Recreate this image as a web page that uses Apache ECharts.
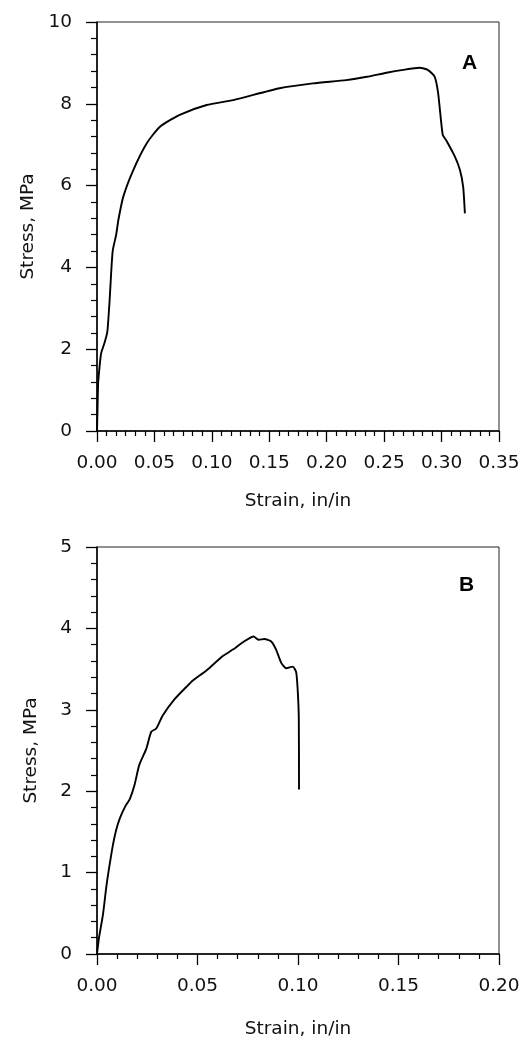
<!DOCTYPE html>
<html>
<head>
<meta charset="utf-8">
<script src="https://cdn.jsdelivr.net/npm/echarts@6/dist/echarts.min.js"></script>
<style>
html,body{margin:0;padding:0;background:#fff;}
#chart{width:529px;height:1040px;}
</style>
</head>
<body>
<div id="chart"></div>
<script>
// Panel A: stress-strain
var strainA = [0, 0.0005, 0.001, 0.0022, 0.0036, 0.0065, 0.0089, 0.010, 0.011, 0.0123, 0.0137, 0.0167, 0.0186, 0.0229, 0.0316, 0.0432, 0.0548, 0.072, 0.0955, 0.1186, 0.159, 0.188, 0.217, 0.235, 0.252, 0.2666, 0.281, 0.288, 0.294, 0.297, 0.301, 0.304, 0.3116, 0.316, 0.3188, 0.3203];
var stressA = [0, 0.6, 1.17, 1.56, 1.9, 2.15, 2.41, 2.78, 3.2, 3.85, 4.41, 4.8, 5.16, 5.73, 6.38, 7.03, 7.44, 7.73, 7.97, 8.09, 8.38, 8.5, 8.58, 8.66, 8.76, 8.83, 8.88, 8.83, 8.66, 8.26, 7.24, 7.11, 6.71, 6.38, 5.97, 5.32];
// Panel B: stress-strain
var strainB = [0, 0.001, 0.003, 0.0046, 0.0063, 0.008, 0.0096, 0.0114, 0.014, 0.0164, 0.0187, 0.021, 0.0245, 0.027, 0.0295, 0.0327, 0.0386, 0.0444, 0.0477, 0.0543, 0.0626, 0.0676, 0.0726, 0.0779, 0.0805, 0.0833, 0.0867, 0.0891, 0.0916, 0.0941, 0.0974, 0.0991, 0.0999, 0.1004, 0.1005];
var stressB = [0, 0.2, 0.49, 0.82, 1.1, 1.35, 1.53, 1.67, 1.81, 1.91, 2.08, 2.32, 2.52, 2.73, 2.77, 2.93, 3.13, 3.28, 3.36, 3.48, 3.66, 3.74, 3.83, 3.9, 3.86, 3.87, 3.84, 3.74, 3.58, 3.51, 3.53, 3.46, 3.22, 2.89, 2.02];

var xTicksA = {min: 0, max: 0.35, interval: 0.05};
var yTicksA = {min: 0, max: 10, interval: 2};
var xTicksB = {min: 0, max: 0.20, interval: 0.05};
var yTicksB = {min: 0, max: 5, interval: 1};
var panelLabels = ['A', 'B'];
var xName = 'Strain, in/in';
var yName = 'Stress, MPa';

function pairs(xs, ys) { return xs.map(function (x, i) { return [x, ys[i]]; }); }

var FONT = 'DejaVu Sans';
var FS = 18.5;

function xAxis(idx, t, minorSplit, gap) {
  return {
    type: 'value', gridIndex: idx, min: t.min, max: t.max, interval: t.interval,
    name: xName, nameLocation: 'middle', nameGap: gap,
    nameTextStyle: {fontFamily: FONT, fontSize: FS, color: '#111'},
    axisLine: {show: true, onZero: false, lineStyle: {color: '#000', width: 1.5}},
    axisTick: {show: true, inside: false, length: 11, lineStyle: {color: '#000', width: 1.3}},
    minorTick: {show: true, splitNumber: minorSplit, length: 5, lineStyle: {color: '#000', width: 1.2}},
    axisLabel: {margin: 23, fontFamily: FONT, fontSize: FS, color: '#111',
      formatter: function (v) { return v.toFixed(2); }},
    splitLine: {show: false}, minorSplitLine: {show: false}
  };
}
function yAxis(idx, t, minorSplit) {
  return {
    type: 'value', gridIndex: idx, min: t.min, max: t.max, interval: t.interval,
    name: yName, nameLocation: 'middle', nameGap: 56,
    nameTextStyle: {fontFamily: FONT, fontSize: FS, color: '#111'},
    axisLine: {show: true, onZero: false, lineStyle: {color: '#000', width: 1.5}},
    axisTick: {show: true, inside: false, length: 11, lineStyle: {color: '#000', width: 1.3}},
    minorTick: {show: true, splitNumber: minorSplit, length: 6, lineStyle: {color: '#000', width: 1.2}},
    axisLabel: {margin: 25, fontFamily: FONT, fontSize: FS, color: '#111'},
    splitLine: {show: false}, minorSplitLine: {show: false}
  };
}

var chart = echarts.init(document.getElementById('chart'), null, {renderer: 'canvas'});
chart.setOption({
  backgroundColor: '#fff',
  animation: false,
  title: [
    {text: panelLabels[0], left: 457, top: 48, textStyle: {fontFamily: 'Liberation Sans', fontWeight: 'bold', fontSize: 21, color: '#000'}},
    {text: panelLabels[1], left: 454, top: 570, textStyle: {fontFamily: 'Liberation Sans', fontWeight: 'bold', fontSize: 21, color: '#000'}}
  ],
  grid: [
    {left: 97, right: 30, top: 22, bottom: 609, show: true, borderColor: '#222', borderWidth: 1},
    {left: 97, right: 30, top: 547, bottom: 83, show: true, borderColor: '#222', borderWidth: 1}
  ],
  xAxis: [xAxis(0, xTicksA, 6, 61), xAxis(1, xTicksB, 5, 66)],
  yAxis: [yAxis(0, yTicksA, 5), yAxis(1, yTicksB, 5)],
  series: [
    {type: 'line', xAxisIndex: 0, yAxisIndex: 0, data: pairs(strainA, stressA), showSymbol: false,
      smooth: 0.2, lineStyle: {color: '#000', width: 1.9}},
    {type: 'line', xAxisIndex: 1, yAxisIndex: 1, data: pairs(strainB, stressB), showSymbol: false,
      smooth: 0.2, lineStyle: {color: '#000', width: 1.9}}
  ]
});
</script>
</body>
</html>
